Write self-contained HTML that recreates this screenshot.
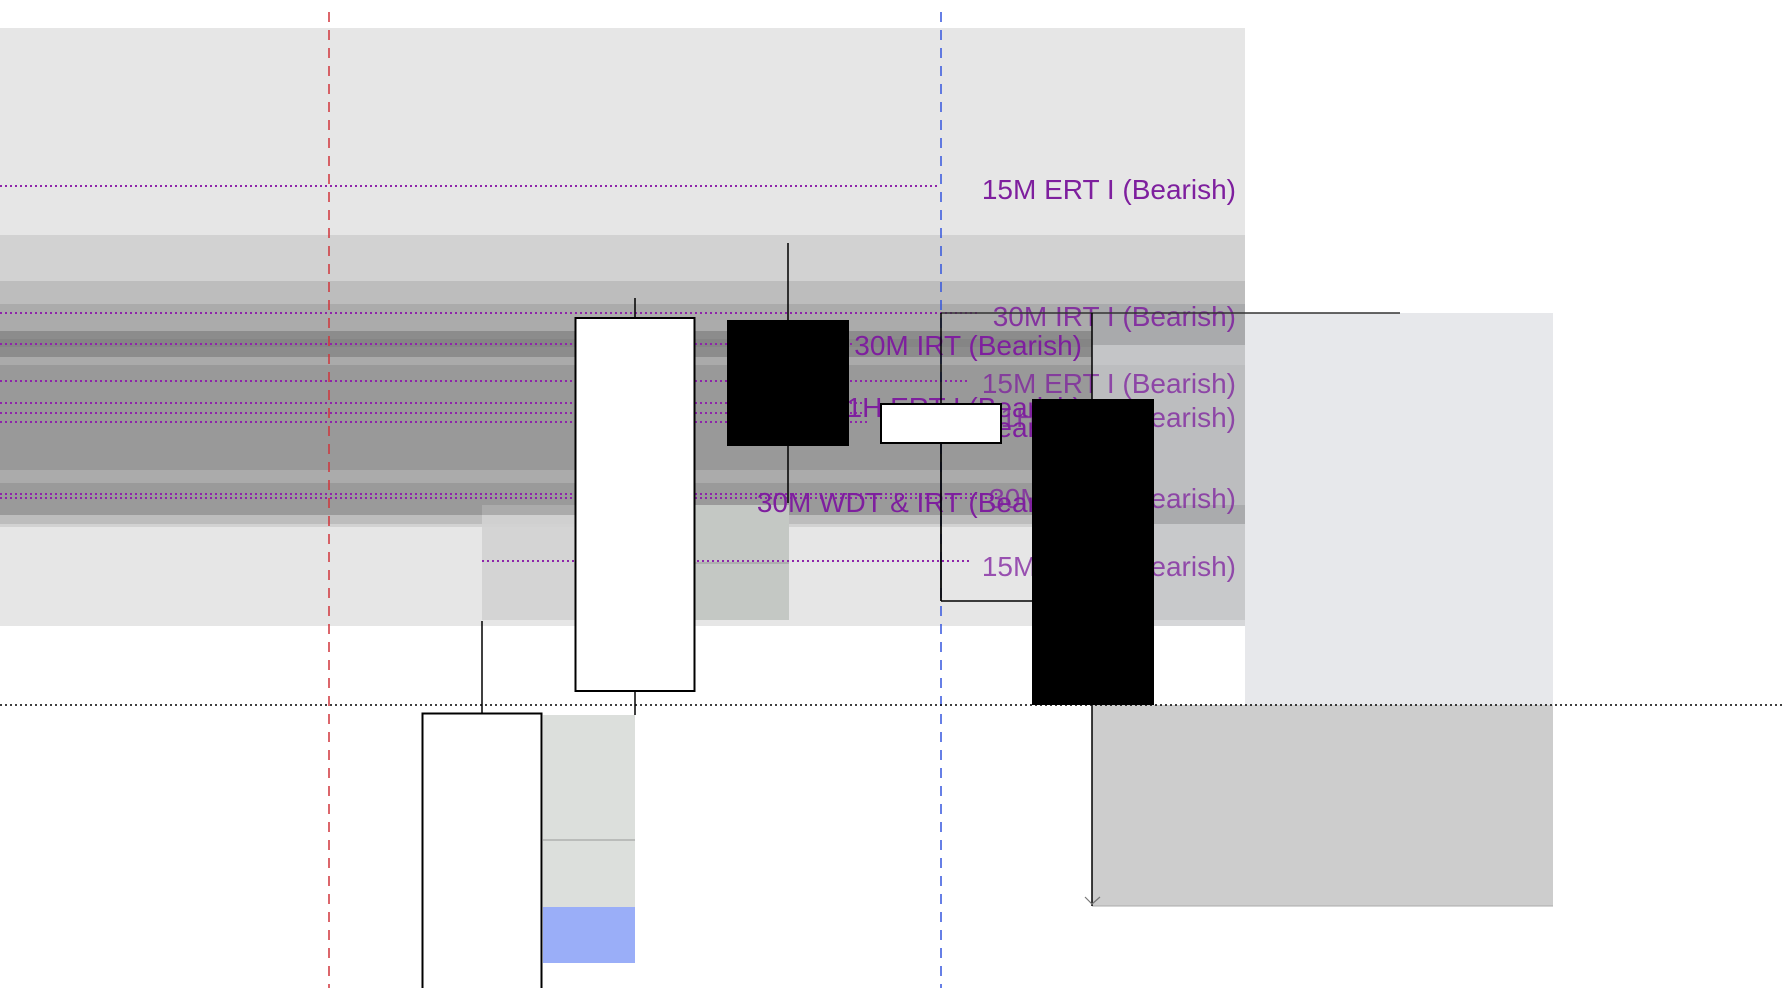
<!DOCTYPE html>
<html><head><meta charset="utf-8"><style>
html,body{margin:0;padding:0;background:#fff;}
svg{display:block;font-family:"Liberation Sans",sans-serif;}
</style></head><body>
<svg width="1784" height="988" viewBox="0 0 1784 988" xmlns="http://www.w3.org/2000/svg">
<rect x="0" y="28" width="1245" height="598" fill="#e6e6e6"/>
<rect x="0" y="235" width="1245" height="292" fill="#d2d2d2"/>
<rect x="0" y="281" width="1245" height="243" fill="#bdbdbd"/>
<rect x="0" y="304" width="1245" height="211" fill="#ababab"/>
<rect x="0" y="331" width="1092" height="26" fill="#8c8c8c"/>
<rect x="0" y="339" width="1092" height="8" fill="#858585"/>
<rect x="0" y="357" width="1092" height="8" fill="#aaaaaa"/>
<rect x="0" y="365" width="1092" height="105" fill="#999999"/>
<rect x="0" y="483" width="1092" height="32" fill="#9a9a9a"/>
<rect x="1092" y="304" width="153" height="41" fill="#a9aaac"/>
<rect x="1092" y="345" width="153" height="20" fill="#c4c5c7"/>
<rect x="1092" y="365" width="153" height="140" fill="#bcbdbf"/>
<rect x="1092" y="505" width="153" height="19" fill="#aaabad"/>
<rect x="1092" y="524" width="153" height="96" fill="#c8c9cb"/>
<rect x="1092" y="620" width="153" height="6" fill="#d6d7d9"/>
<rect x="1245" y="313" width="308" height="392" fill="#e7e8eb"/>
<rect x="1092" y="705" width="461" height="201" fill="#cdcdcd"/>
<line x1="1092" y1="906" x2="1553" y2="906" stroke="#aaa" stroke-width="1"/>
<rect x="482" y="505" width="307" height="115" fill="#d2d2d2" opacity="0.9"/>
<rect x="482" y="505" width="307" height="10" fill="#8a8a8a" opacity="0.5"/>
<rect x="695" y="505" width="94" height="115" fill="#c4c8c4"/>
<line x1="695" y1="563" x2="789" y2="563" stroke="#999" stroke-width="1"/>
<rect x="543" y="715" width="92" height="192" fill="#dcdfdc"/>
<line x1="543" y1="840" x2="635" y2="840" stroke="#999" stroke-width="1"/>
<rect x="543" y="907" width="92" height="56" fill="#9aaef8"/>
<g stroke="#8e24aa" stroke-width="2" stroke-dasharray="2,3">
<line x1="0" y1="186" x2="940" y2="186"/>
<line x1="0" y1="313" x2="978" y2="313"/>
<line x1="0" y1="344" x2="855" y2="344"/>
<line x1="0" y1="381" x2="968" y2="381"/>
<line x1="0" y1="403" x2="870" y2="403"/>
<line x1="0" y1="413" x2="870" y2="413"/>
<line x1="0" y1="422" x2="870" y2="422"/>
<line x1="0" y1="494" x2="1000" y2="494"/>
<line x1="0" y1="498" x2="1000" y2="498"/>
<line x1="482" y1="561" x2="970" y2="561"/>
</g>
<line x1="329" y1="12" x2="329" y2="988" stroke="#d0343a" stroke-width="1.5" stroke-dasharray="10,8"/>
<line x1="941" y1="12" x2="941" y2="988" stroke="#3355dd" stroke-width="1.5" stroke-dasharray="10,8"/>
<line x1="0" y1="705" x2="1784" y2="705" stroke="#000" stroke-width="1.5" stroke-dasharray="2,3"/>
<g fill="#7e1f9e" font-size="28" text-anchor="end">
<text x="1236" y="199">15M ERT I (Bearish)</text>
<text x="1236" y="326" opacity="0.85">30M IRT I (Bearish)</text>
<text x="1082" y="355">30M IRT (Bearish)</text>
<text x="1236" y="393" opacity="0.75">15M ERT I (Bearish)</text>
<text x="1082" y="417">1H ERT I (Bearish)</text>
<text x="1082" y="437">(Bearish)</text>
<text x="1236" y="427" opacity="0.75">1H ERT I (Bearish)</text>
<text x="1236" y="508" opacity="0.75">30M WDT (Bearish)</text>
<text x="1082" y="512">30M WDT &amp; IRT (Bearish)</text>
<text x="1236" y="576" opacity="0.75">15M ERT I (Bearish)</text>
</g>
<line x1="941" y1="313" x2="1400" y2="313" stroke="#333" stroke-width="1.5"/>
<line x1="941" y1="313" x2="941" y2="601" stroke="#000" stroke-width="1.5"/>
<line x1="941" y1="601" x2="1033" y2="601" stroke="#000" stroke-width="1.5"/>
<line x1="482" y1="621" x2="482" y2="713" stroke="#000" stroke-width="1.5"/>
<rect x="422.5" y="713.5" width="119" height="280" fill="#fff" stroke="#000" stroke-width="2"/>
<line x1="635" y1="298" x2="635" y2="715" stroke="#000" stroke-width="1.5"/>
<rect x="575.5" y="318" width="119" height="373" fill="#fff" stroke="#000" stroke-width="2"/>
<line x1="788" y1="243" x2="788" y2="503" stroke="#000" stroke-width="1.5"/>
<rect x="727" y="320" width="122" height="126" fill="#000"/>
<line x1="941" y1="443" x2="941" y2="601" stroke="#000" stroke-width="1.5"/>
<rect x="881" y="404" width="120" height="39" fill="#fff" stroke="#000" stroke-width="2"/>
<line x1="1092" y1="313" x2="1092" y2="906" stroke="#000" stroke-width="1.5"/>
<rect x="1032" y="399" width="122" height="306" fill="#000"/>
<path d="M1085 897 L1092 904 L1100 897" fill="none" stroke="#777" stroke-width="1.2"/>
</svg>
</body></html>
